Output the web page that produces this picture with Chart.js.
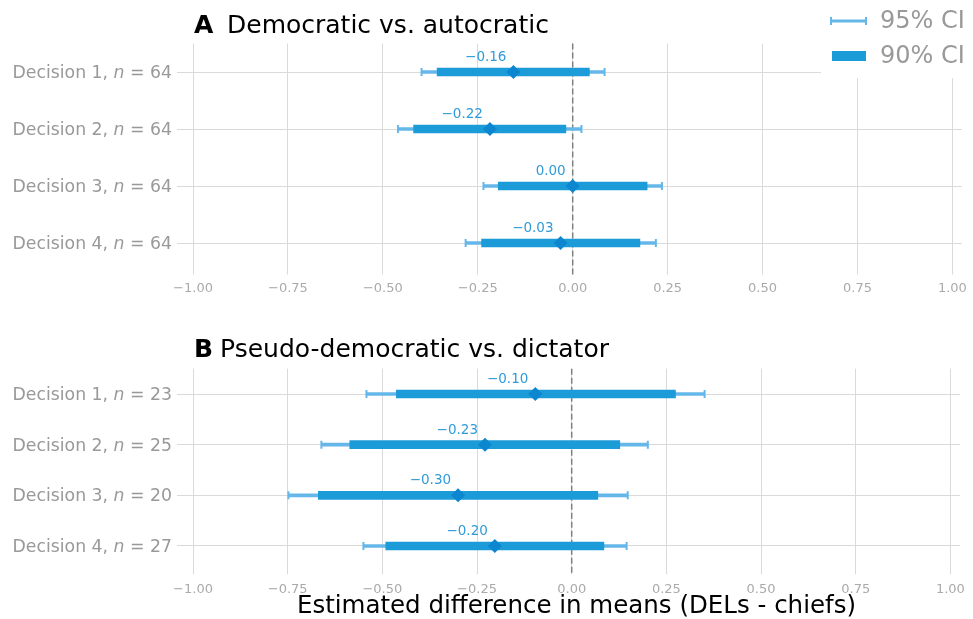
<!DOCTYPE html>
<html>
<head>
<meta charset="utf-8">
<script src="https://cdn.jsdelivr.net/npm/chart.js@4.4.1/dist/chart.umd.min.js"></script>
<style>
    body { margin: 0; background: #fff; }
    #wrap { position: relative; width: 973px; height: 619px; }
    canvas { position: absolute; left: 0; }
</style>
</head>
<body>
<div id="wrap">
    <canvas id="chart-a" width="973" height="300" style="top:0"></canvas>
    <canvas id="chart-b" width="973" height="319" style="top:300px"></canvas>
</div>
<script>
// categories and x ticks
var DECISIONS = ['Decision 1', 'Decision 2', 'Decision 3', 'Decision 4'];
var TICKS = [-1, -0.75, -0.5, -0.25, 0, 0.25, 0.5, 0.75, 1];

// panel A: democratic vs. autocratic
var N_A = [64, 64, 64, 64];
var EST_A = [-0.156, -0.218, 0.000, -0.032];
var LO90_A = [-0.357, -0.419, -0.196, -0.240];
var HI90_A = [0.044, -0.018, 0.196, 0.177];
var LO95_A = [-0.398, -0.460, -0.235, -0.282];
var HI95_A = [0.084, 0.023, 0.235, 0.219];

// panel B: pseudo-democratic vs. dictator
var N_B = [23, 25, 20, 27];
var EST_B = [-0.096, -0.229, -0.300, -0.203];
var LO90_B = [-0.463, -0.586, -0.669, -0.491];
var HI90_B = [0.274, 0.127, 0.069, 0.085];
var LO95_B = [-0.542, -0.661, -0.748, -0.550];
var HI95_B = [0.351, 0.201, 0.148, 0.145];

var C95 = '#64b7e8';
var C90 = '#1c9bd9';
var CPOINT = '#0b86cf';
var CLABEL = '#2f9bd9';
var GRID = '#dadada';
var FONT = '"DejaVu Sans", sans-serif';

Chart.defaults.font.family = FONT;

function fmt(v) {
    return v.toFixed(2).replace('-', '\u2212');
}

function pairs(lo, hi) {
    var out = [];
    for (var i = 0; i < lo.length; i++) {
        out.push([lo[i], hi[i]]);
    }
    return out;
}

// the category scale only maps label strings, so use them as y
function caps(lo, hi) {
    var out = [];
    for (var i = 0; i < lo.length; i++) {
        out.push({x: lo[i], y: DECISIONS[i]});
        out.push({x: hi[i], y: DECISIONS[i]});
    }
    return out;
}

function points(est) {
    return est.map(function (v, i) {
        return {x: v, y: DECISIONS[i]};
    });
}

/**
 * Dashed reference line at zero, under the intervals.
 */
var zeroLine = {
    id: 'zeroLine',
    beforeDatasetsDraw: function (chart) {
        var ctx = chart.ctx;
        var x = chart.scales.x.getPixelForValue(0);
        ctx.save();
        ctx.strokeStyle = '#808080';
        ctx.lineWidth = 1.5;
        ctx.setLineDash([6, 3]);
        ctx.beginPath();
        ctx.moveTo(x, chart.chartArea.top);
        ctx.lineTo(x, chart.chartArea.bottom + 3);
        ctx.stroke();
        ctx.restore();
    }
};

/**
 * Y labels with an italic n, plus the estimate labels and the panel title.
 */
var decorations = {
    id: 'decorations',
    afterDraw: function (chart) {
        var opts = chart.options.plugins.decorations;
        var ctx = chart.ctx;
        var ys = chart.scales.y;
        var xs = chart.scales.x;
        ctx.save();

        // y labels
        ctx.fillStyle = '#999999';
        ctx.textBaseline = 'middle';
        ctx.textAlign = 'left';
        var plain = '17.3px ' + FONT;
        var italic = 'italic 17.3px ' + FONT;
        for (var i = 0; i < chart.data.labels.length; i++) {
            var py = ys.getPixelForValue(i) + 1.5;
            var head = chart.data.labels[i] + ', ';
            var tail = ' = ' + opts.n[i];
            ctx.font = plain;
            var wHead = ctx.measureText(head).width;
            var wTail = ctx.measureText(tail).width;
            ctx.font = italic;
            var wN = ctx.measureText('n').width;
            var x = chart.chartArea.left - 21 - wTail - wN - wHead;
            ctx.font = plain;
            ctx.fillText(head, x, py);
            ctx.font = italic;
            ctx.fillText('n', x + wHead, py);
            ctx.font = plain;
            ctx.fillText(tail, x + wHead + wN, py);
        }

        // estimate labels
        ctx.fillStyle = CLABEL;
        ctx.font = '13.5px ' + FONT;
        ctx.textAlign = 'right';
        ctx.textBaseline = 'alphabetic';
        for (var j = 0; j < opts.est.length; j++) {
            ctx.fillText(fmt(opts.est[j]), xs.getPixelForValue(opts.est[j]) - 7, ys.getPixelForValue(j) - 11);
        }

        // panel title
        ctx.fillStyle = '#000';
        ctx.textAlign = 'left';
        ctx.font = 'bold 25px ' + FONT;
        ctx.fillText(opts.letter, chart.chartArea.left + 1, opts.titleY);
        ctx.font = '25px ' + FONT;
        ctx.fillText(opts.title, opts.titleX, opts.titleY);

        // legend
        if (opts.legend) {
            ctx.fillStyle = '#fff';
            ctx.fillRect(821, 0, 152, 78);
            ctx.strokeStyle = C95;
            ctx.lineWidth = 3;
            ctx.beginPath();
            ctx.moveTo(831, 21);
            ctx.lineTo(866, 21);
            ctx.stroke();
            ctx.lineWidth = 2;
            ctx.beginPath();
            ctx.moveTo(831, 17);
            ctx.lineTo(831, 25);
            ctx.moveTo(866, 17);
            ctx.lineTo(866, 25);
            ctx.stroke();
            ctx.fillStyle = C90;
            ctx.fillRect(832, 51, 34, 10);
            ctx.fillStyle = '#999999';
            ctx.font = '24px ' + FONT;
            ctx.textBaseline = 'middle';
            ctx.fillText('95% CI', 880, 22);
            ctx.fillText('90% CI', 880, 57);
        }
        ctx.restore();
    }
};

function buildChart(id, cfg) {
    return new Chart(document.getElementById(id).getContext('2d'), {
        type: 'bar',
        data: {
            labels: DECISIONS,
            datasets: [{
                label: '95% CI',
                data: pairs(cfg.lo95, cfg.hi95),
                backgroundColor: C95,
                barThickness: 3,
                grouped: false,
                order: 3
            }, {
                type: 'line',
                label: '95% caps',
                data: caps(cfg.lo95, cfg.hi95),
                showLine: false,
                pointStyle: 'line',
                rotation: 90,
                pointRadius: 4,
                borderColor: C95,
                pointBorderWidth: 2,
                order: 2
            }, {
                label: '90% CI',
                data: pairs(cfg.lo90, cfg.hi90),
                backgroundColor: C90,
                barThickness: 8,
                grouped: false,
                order: 1
            }, {
                type: 'line',
                label: 'Estimate',
                data: points(cfg.est),
                showLine: false,
                pointStyle: 'rectRot',
                pointRadius: 7,
                backgroundColor: CPOINT,
                borderColor: CPOINT,
                pointBorderWidth: 0,
                order: 0
            }]
        },
        options: {
            indexAxis: 'y',
            responsive: false,
            animation: false,
            events: [],
            layout: {padding: {top: cfg.top, right: 11, left: 0, bottom: 0}},
            plugins: {
                legend: {display: false},
                tooltip: {enabled: false},
                decorations: {
                    n: cfg.n,
                    est: cfg.est,
                    letter: cfg.letter,
                    title: cfg.title,
                    titleX: cfg.titleX,
                    titleY: cfg.titleY,
                    legend: cfg.legend
                }
            },
            scales: {
                x: {
                    type: 'linear',
                    min: -1,
                    max: 1.025,
                    afterBuildTicks: function (scale) {
                        scale.ticks = TICKS.map(function (v) { return {value: v}; });
                    },
                    afterFit: function (scale) {
                        scale.height = cfg.xHeight;
                    },
                    grid: {color: GRID, lineWidth: 1, tickLength: 3},
                    border: {display: false},
                    ticks: {
                        color: '#aaaaaa',
                        font: {size: 13},
                        padding: cfg.tickPad,
                        maxRotation: 0,
                        autoSkip: false,
                        callback: function (v) { return fmt(v); }
                    },
                    title: {
                        display: cfg.axisTitle,
                        text: 'Estimated difference in means (DELs - chiefs)',
                        color: '#000',
                        font: {size: 24.5, lineHeight: 1},
                        padding: {top: 0, bottom: 0}
                    }
                },
                y: {
                    type: 'category',
                    offset: true,
                    afterFit: function (scale) {
                        scale.width = 193;
                    },
                    grid: {color: GRID, lineWidth: 1, offset: false, tickLength: 16},
                    border: {display: false},
                    ticks: {display: false}
                }
            }
        },
        plugins: [zeroLine, decorations]
    });
}

buildChart('chart-a', {
    n: N_A, est: EST_A, lo90: LO90_A, hi90: HI90_A, lo95: LO95_A, hi95: HI95_A,
    letter: 'A', title: 'Democratic vs. autocratic', titleX: 227, titleY: 33,
    top: 43.5, xHeight: 28.5, tickPad: 6, axisTitle: false, legend: true
});

buildChart('chart-b', {
    n: N_B, est: EST_B, lo90: LO90_B, hi90: HI90_B, lo95: LO95_B, hi95: HI95_B,
    letter: 'B', title: 'Pseudo-democratic vs. dictator', titleX: 220, titleY: 57,
    top: 68.7, xHeight: 47.7, tickPad: 8, axisTitle: true, legend: false
});
</script>
</body>
</html>
